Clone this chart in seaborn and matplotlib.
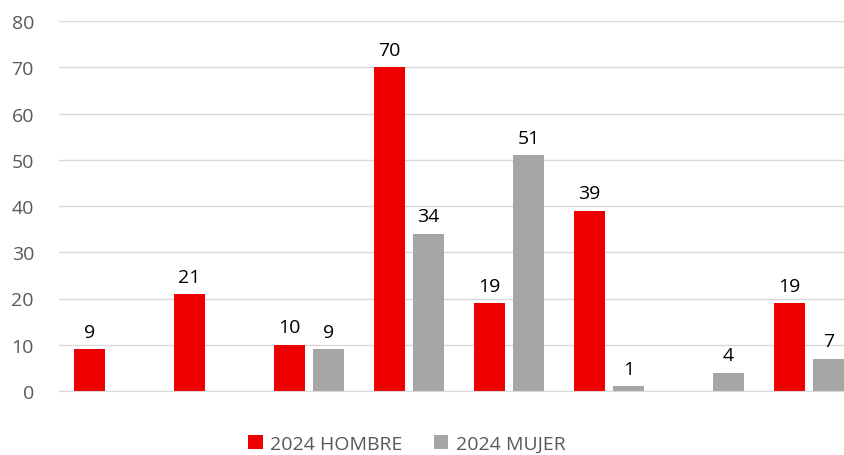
import matplotlib.pyplot as plt
import seaborn as sns
import pandas as pd
import numpy as np

# values (NaN = no bar)
categories = ['C1', 'C2', 'C3', 'C4', 'C5', 'C6', 'C7', 'C8']
hombre = [9, 21, 10, 70, 19, 39, np.nan, 19]
mujer = [np.nan, np.nan, 9, 34, 51, 1, 4, 7]
series = ['2024 HOMBRE', '2024 MUJER']
colors = ['#ee0000', '#a6a6a6']

df = pd.DataFrame({
    'cat': categories * 2,
    'serie': [series[0]] * len(categories) + [series[1]] * len(categories),
    'valor': hombre + mujer,
})

sns.set_style('white')
plt.rcParams['font.family'] = ['Open Sans', 'DejaVu Sans']

fig = plt.figure(figsize=(8.45, 4.56), dpi=100)
ax = fig.add_axes([59 / 845, 64 / 456, 800 / 845, 370 / 456])

sns.barplot(data=df, x='cat', y='valor', hue='serie', order=categories,
            hue_order=series, palette=colors, width=0.78, gap=0.2,
            saturation=1, linewidth=0, ax=ax, legend=True)

for cont in ax.containers:
    ax.bar_label(cont, fmt='%.0f', padding=6, fontsize=14, color='black')

ax.set_ylim(0, 80)
ax.set_yticks(range(0, 81, 10))
ax.set_xlim(-0.5, len(categories) - 0.5)
ax.yaxis.grid(True, color='#d9d9d9', linewidth=1)
ax.set_axisbelow(True)
for s in ['top', 'right', 'left']:
    ax.spines[s].set_visible(False)
ax.spines['bottom'].set_color('#d9d9d9')
ax.set_xticks([])
ax.set_xlabel('')
ax.set_ylabel('')
ax.tick_params(axis='y', length=0, labelsize=14, labelcolor='#595959', pad=18)

ax.legend(loc='center', bbox_to_anchor=(0.5 - 52 / 800, -53 / 370),
          ncol=2, frameon=False, fontsize=14, handlelength=0.75, handleheight=0.75,
          columnspacing=1.6, handletextpad=0.4, labelcolor='#595959')

fig.savefig('out.png', dpi=100)
